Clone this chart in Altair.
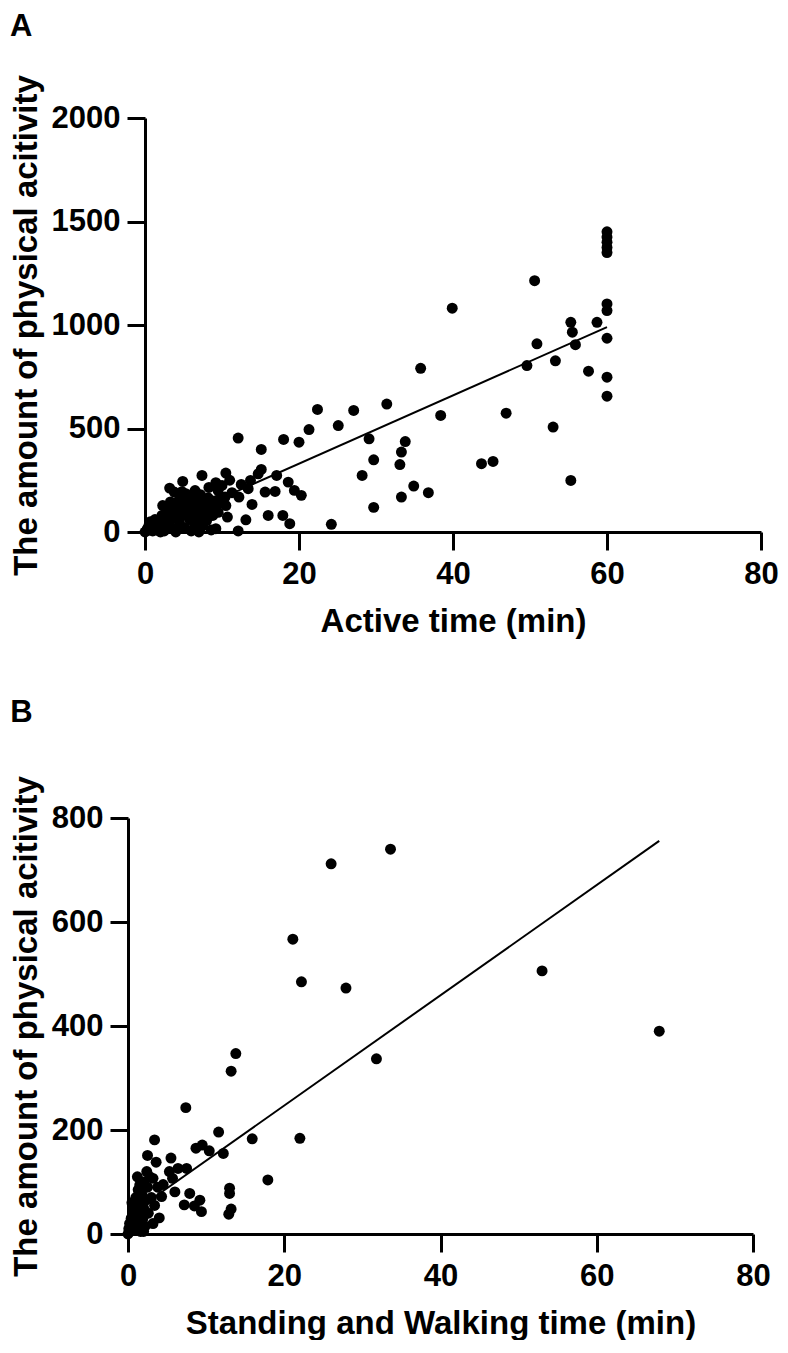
import altair as alt
import pandas as pd

FONT = "Liberation Sans"

# ---------------- Panel A : Active time vs amount of physical activity
a_time = [
    60, 60, 60, 60, 60, 60, 60, 60, 60, 60,
    50.6, 55.3, 55.5, 55.9, 58.7, 50.9, 49.6, 53.3, 57.6, 46.9, 53.0, 43.7, 45.2, 55.3,
    39.9, 35.8, 31.4, 27.1, 25.1, 38.4, 29.1, 33.8, 33.3, 29.7, 33.1, 28.2, 34.9, 33.3, 36.8, 29.7, 24.2,
    22.4, 21.3, 12.1, 18.0, 20.0, 15.1, 15.1, 14.7, 10.5, 7.4, 4.9, 3.2, 3.8, 17.1, 18.6, 19.4, 20.3,
    15.6, 16.9, 13.7, 13.4, 9.2, 12.2, 13.9, 10.5, 10.7, 16.0, 17.9, 18.8, 13.1, 12.1, 9.2, 2.3,
    9.5, 8.3, 11.0, 11.3, 10.0, 12.5, 10.4, 10.0,
    0, 0.2, 0.3, 0.5, 0.5, 0.8, 1.0, 1.0, 1.2, 1.5, 1.5, 1.8, 2.0, 2.0, 2.2, 2.5, 2.5, 2.8, 3.0, 3.0,
    3.2, 3.5, 3.5, 3.8, 4.0, 4.0, 4.2, 4.5, 4.5, 4.8, 5.0, 5.0, 5.2, 5.5, 5.8, 5.8, 6.0, 6.2, 6.2, 6.5,
    6.8, 7.0, 7.0, 7.2, 7.5, 7.5, 7.8, 8.0, 8.0, 8.2, 8.5, 8.8, 9.0, 9.2, 9.5, 9.8, 6.0, 4.0, 2.0, 1.3,
    0.7, 3.3, 2.8, 5.3, 6.5, 4.8, 8.6, 7.0,
]
a_amount = [
    1450, 1425, 1400, 1375, 1350, 1102, 1070, 936, 748, 656,
    1214, 1013, 965, 905, 1013, 909, 804, 827, 777, 574, 507, 330, 341, 249,
    1081, 791, 618, 587, 514, 563, 450, 437, 386, 349, 326, 273, 222, 169, 190, 119, 37,
    592, 495, 454, 447, 434, 399, 302, 281, 285, 273, 244, 212, 193, 273, 241, 201, 177,
    193, 196, 249, 209, 238, 169, 133, 128, 72, 80, 80, 40, 59, 5, 16, 128,
    200, 215, 250, 190, 150, 230, 169, 225,
    0, 5, 15, 10, 30, 20, 5, 40, 25, 50, 10, 35, 60, 20, 80, 45, 5, 70, 100, 30,
    55, 120, 85, 15, 140, 65, 100, 40, 160, 115, 80, 135, 20, 100, 150, 60, 120, 170, 90, 40,
    140, 110, 70, 180, 150, 30, 95, 130, 55, 165, 110, 80, 150, 125, 95, 170, 5, 0, 0, 60,
    50, 145, 110, 185, 200, 195, 10, 0,
]
a_fit_time = [0, 60]
a_fit_amount = [0, 990]

# ---------------- Panel B : Standing and walking time vs amount of physical activity
b_time = [
    33.6, 26.0, 21.1, 22.2, 27.9, 13.8, 13.2, 31.8, 53.0, 68.0,
    7.4, 11.6, 15.9, 22.0, 3.4, 2.5, 3.6, 5.5, 8.7, 9.5, 10.4, 12.2, 7.5, 17.9, 13.0, 13.0, 13.2, 12.9,
    7.9, 9.2, 9.4, 7.2, 8.5, 4.3, 4.0, 5.7, 6.0, 5.3, 6.4, 3.2, 1.5, 1.7,
    0, 0.1, 0.2, 0.3, 0.4, 0.5, 0.6, 0.7, 0.8, 0.9, 1.0, 1.0, 1.1, 1.2, 1.3, 1.4, 1.5, 1.6, 1.8, 1.9,
    2.0, 2.0, 2.2, 2.3, 2.5, 2.6, 2.8, 3.0, 3.2, 3.4, 2.4, 1.2, 0.5, 2.0, 4.5, 3.8,
]
b_amount = [
    740, 712, 567, 485, 473, 347, 313, 337, 506, 390,
    243, 196, 183, 184, 181, 151, 138, 146, 165, 171, 160, 155, 126, 104, 88, 78, 48, 38,
    78, 65, 43, 56, 54, 72, 31, 107, 81, 120, 126, 107, 94, 81,
    0, 10, 20, 5, 30, 15, 45, 25, 60, 10, 35, 70, 50, 20, 85, 40, 60, 5, 75, 30,
    100, 50, 15, 65, 90, 40, 110, 70, 20, 55, 120, 110, 60, 5, 95, 90,
]
b_fit_time = [0, 68]
b_fit_amount = [35, 756]

Y_TITLE = "The amount of physical acitivity"
X_TICKS = [0, 20, 40, 60, 80]


def panel(xs, ys, fx, fy, x_title, y_max, y_values, letter, title_offset,
          data_width, height, inset):
    """inset: pixels between the group's left edge and the y axis (x = 0)."""
    pts = pd.DataFrame({"t": xs, "v": ys})
    fit = pd.DataFrame({"t": fx, "v": fy})
    px_per_unit = data_width / 80.0
    x_min = -inset / px_per_unit
    x = alt.X(
        "t:Q",
        scale=alt.Scale(domain=[x_min, 80], nice=False, zero=False),
        axis=alt.Axis(title=x_title, values=X_TICKS, format="d",
                      titleX=inset + data_width / 2),
    )
    y = alt.Y(
        "v:Q",
        scale=alt.Scale(domain=[0, y_max], nice=False, zero=True),
        axis=alt.Axis(title=Y_TITLE, values=y_values, format="d", offset=-inset),
    )
    dots = alt.Chart(pts).mark_circle(size=120, color="black", opacity=1).encode(x=x, y=y)
    line = alt.Chart(fit).mark_line(color="black", strokeWidth=2).encode(x="t:Q", y="v:Q")
    return alt.layer(line, dots).properties(
        width=data_width + inset,
        height=height,
        title=alt.TitleParams(
            letter,
            anchor="start",
            frame="bounds",
            offset=title_offset,
            font=FONT,
            fontSize=31,
            fontWeight="bold",
            color="black",
        ),
    )


panel_a = panel(a_time, a_amount, a_fit_time, a_fit_amount, "Active time (min)",
                2000, [0, 500, 1000, 1500, 2000], "A", 32, 616, 414, 17)
panel_b = panel(b_time, b_amount, b_fit_time, b_fit_amount, "Standing and Walking time (min)",
                800, [0, 200, 400, 600, 800], "B", 47, 625, 416, 0)

chart = (
    alt.concat(panel_a, panel_b, columns=1, spacing=58)
    .properties(padding={"left": 2, "top": 2, "right": 0, "bottom": 0},
                background="white")
    .configure_view(stroke=None)
    .configure_axis(
        grid=False,
        domainColor="black",
        domainWidth=3,
        tickColor="black",
        tickWidth=3,
        tickSize=18,
        labelFont=FONT,
        labelFontSize=31,
        labelFontWeight="bold",
        labelColor="black",
        labelFlush=False,
        labelOverlap=False,
        titleFont=FONT,
        titleFontSize=33,
        titleFontWeight="bold",
        titleColor="black",
    )
    .configure_axisX(labelPadding=9, titlePadding=16)
    .configure_axisY(labelPadding=7, titlePadding=8)
)

chart.save("out.html", embed_options={"renderer": "svg", "actions": False})
